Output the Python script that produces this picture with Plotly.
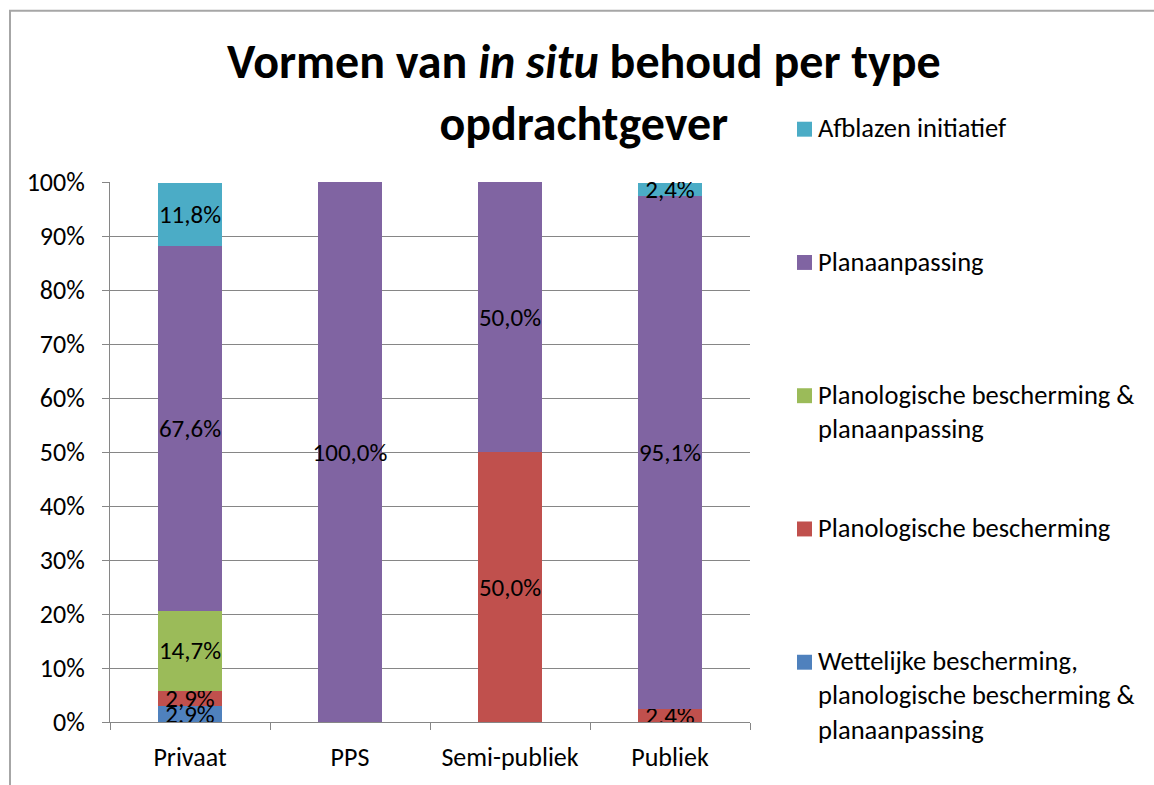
import plotly.graph_objects as go

categories = ["Privaat", "PPS", "Semi-publiek", "Publiek"]
series_names = [
    "Wettelijke bescherming,<br>planologische bescherming &<br>planaanpassing",
    "Planologische bescherming",
    "Planologische bescherming &<br>planaanpassing",
    "Planaanpassing",
    "Afblazen initiatief",
]
wettelijke = [0.029, None, None, None]
planologisch = [0.029, None, 0.50, 0.024]
planologisch_plan = [0.147, None, None, None]
planaanpassing = [0.676, 1.0, 0.50, 0.951]
afblazen = [0.118, None, None, 0.024]
series_values = [wettelijke, planologisch, planologisch_plan, planaanpassing, afblazen]
colors = ["#4F81BD", "#C0504D", "#9BBB59", "#8064A2", "#4BACC6"]
y_ticks = [i / 10 for i in range(11)]

FONT = "Carlito, Lato, sans-serif"
W, H = 1154, 785
PL, PR, PT, PB = 110, 750, 182, 724


def px(x):
    return (x - PL) / (PR - PL)


def py(y):
    return (PB - y) / (PB - PT)


fig = go.Figure()
for name, vals, col in zip(series_names, series_values, colors):
    fig.add_trace(go.Bar(
        x=categories, y=vals, name=name, marker=dict(color=col, line=dict(width=0)),
        texttemplate="%{y:.1%}", textposition="inside", insidetextanchor="middle",
        textangle=0, textfont=dict(color="black", size=25, family=FONT),
        constraintext="none", showlegend=False, width=0.4,
    ))

shapes = [dict(type="rect", xref="paper", yref="paper", x0=px(10), x1=px(1170),
               y0=py(800), y1=py(10), line=dict(color="#A6A6A6", width=2), layer="below")]
annotations = [dict(
    text="<b>Vormen van <i>in situ</i> behoud per type<br>opdrachtgever</b>",
    xref="paper", yref="paper", x=px(584), y=py(92), xanchor="center", yanchor="middle",
    showarrow=False, font=dict(size=48, family=FONT, color="black"), align="center",
)]
legend_order = [4, 3, 2, 1, 0]
for i, k in enumerate(legend_order):
    yc = 129 + i * 133.75
    shapes.append(dict(type="rect", xref="paper", yref="paper", x0=px(797), x1=px(812),
                       y0=py(yc + 7.5), y1=py(yc - 7.5), fillcolor=colors[k], line=dict(width=0)))
    annotations.append(dict(
        text=series_names[k], xref="paper", yref="paper", x=px(816), y=py(yc - 19),
        xanchor="left", yanchor="top", align="left", showarrow=False,
        font=dict(size=26.5, family=FONT, color="black"),
    ))

fig.update_layout(
    barmode="stack", width=W, height=H, separators=",.",
    margin=dict(l=PL, r=W - PR, t=PT, b=H - PB),
    plot_bgcolor="white", paper_bgcolor="white",
    font=dict(family=FONT, size=25, color="black"),
    uniformtext=dict(minsize=25, mode="show"),
    shapes=shapes, annotations=annotations, showlegend=False,
    xaxis=dict(showline=True, linecolor="#868686", linewidth=1, ticks="outside",
               tickson="boundaries", ticklen=7, tickcolor="#868686",
               tickfont=dict(size=26, family=FONT), ticklabelstandoff=12),
    yaxis=dict(range=[0, 1], tickvals=y_ticks, tickformat=".0%", showline=True,
               linecolor="#868686", linewidth=1, ticks="outside", ticklen=7,
               tickcolor="#868686", showgrid=True, gridcolor="#868686", gridwidth=1,
               tickfont=dict(size=26, family=FONT), zeroline=False, ticklabelstandoff=12),
)
fig.write_html("out.html", config={"displayModeBar": False},
               post_script="document.body.style.margin='0px';")
